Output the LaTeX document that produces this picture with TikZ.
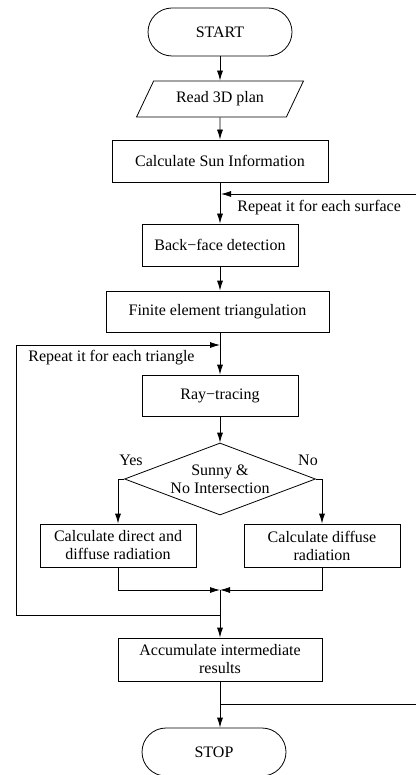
\documentclass[tikz,border=0pt]{standalone}
\usepackage{fontspec}
\setmainfont{Liberation Serif}
\usepackage{tikz}
\usetikzlibrary{arrows.meta,shapes.geometric}

\begin{document}
\begin{tikzpicture}[x=1pt,y=-1pt,line width=0.8pt,
  every node/.style={font=\fontsize{16}{18}\selectfont},
  proc/.style={draw,rectangle,minimum height=42pt,inner sep=2pt,align=center},
  term/.style={draw,rectangle,rounded corners=24pt,minimum width=144pt,minimum height=48pt},
  io/.style={draw,trapezium,trapezium left angle=52,trapezium right angle=128,trapezium stretches=true,minimum width=167pt,minimum height=36pt,inner sep=0pt},
  dec/.style={draw,diamond,aspect=2.65,minimum width=191pt,minimum height=72pt,inner sep=0pt,align=center},
  lab/.style={inner sep=1pt},
  arr/.style={-{Latex[length=10pt,width=6pt]}}]
\useasboundingbox (0,0) rectangle (416,775);
\node[term] (start) at (220,32) {START};
\node[io] (read) at (220,99) {Read 3D plan};
\node[proc,minimum width=216pt] (sun) at (220,161) {Calculate Sun Information};
\node[proc,minimum width=156pt] (back) at (220,245) {Back−face detection};
\node[proc,minimum width=223pt,minimum height=41pt] (fem) at (217.5,311.5) {Finite element triangulation};
\node[proc,minimum width=156pt,minimum height=41pt] (ray) at (220,395.5) {Ray−tracing};
\node[dec] (test) at (220,479) {Sunny \&\\No Intersection};
\node[proc,minimum width=156pt,minimum height=43pt] (both) at (118,545.5) {Calculate direct and\\diffuse radiation};
\node[proc,minimum width=156pt,minimum height=43pt] (diff) at (322,545.5) {Calculate diffuse\\radiation};
\node[proc,minimum width=204pt,minimum height=43pt] (acc) at (220,659.5) {Accumulate intermediate\\results};
\node[term] (stop) at (214,752) {STOP};
% labels
\node[lab,anchor=west] (surflab) at (236,208) {Repeat it for each surface};
\node[lab,anchor=west] (trilab) at (27,358) {Repeat it for each triangle};
\node[lab] (yes) at (131,460) {Yes};
\node[lab] (no) at (308,460) {No};
% junctions
\coordinate (surfin) at (221,194);
\coordinate (surfend) at (416,194);
\coordinate (triin) at (220,345);
\coordinate (merge) at (220,590);
\coordinate (triout) at (220,615);
\coordinate (surfout) at (220,704);
\coordinate (surfback) at (416,704);
% main flow
\draw[arr] (start) -- (read);
\draw[arr] (read) -- (sun);
\draw[arr] (sun) -- (back);
\draw[arr] (back.south) -- (back.south |- fem.north);
\draw[arr] (fem.south -| ray.north) -- (ray.north);
\draw[arr] (ray) -- (test);
\draw[arr] (test.west) -| (both.north);
\draw[arr] (test.east) -| (diff.north);
\draw[arr] (both.south) |- (merge);
\draw[arr] (diff.south) |- (merge);
\draw[arr] (merge) -- (acc);
\draw[arr] (acc.south) -- (acc.south |- stop.north);
% loops
\draw[arr] (surfend) -- (surfin);
\draw[arr] (triout) -- (16,615) -- (16,345) -- (triin);
\draw (surfout) -- (surfback);
\end{tikzpicture}
\end{document}
